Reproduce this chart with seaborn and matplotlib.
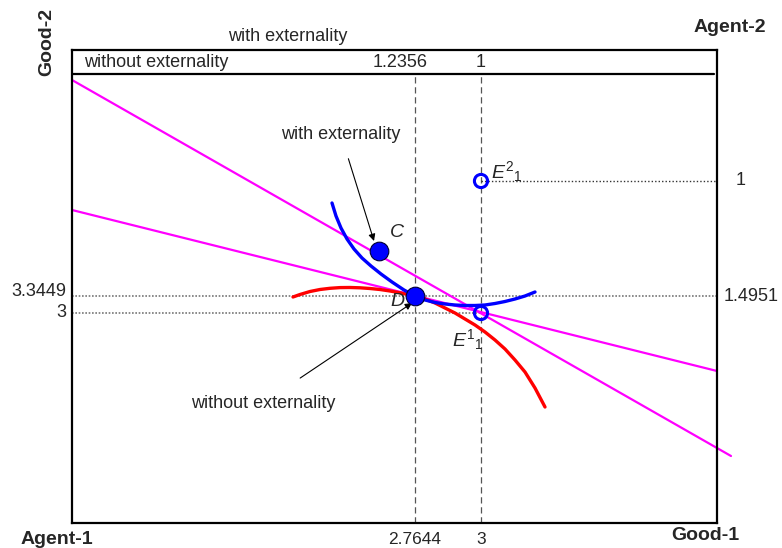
import matplotlib
matplotlib.use("Agg")
import matplotlib.pyplot as plt
import seaborn as sns
import pandas as pd

# ---- data (box units: origin = Agent-1 corner) ----
box_w, box_h = 645, 473
top_strip_y = 449

blue_x = [260, 264, 269, 275, 282, 290, 299, 309, 320, 332, 343, 353, 363, 373,
          383, 393, 403, 413, 423, 433, 443, 453, 463]
blue_y = [320, 307, 295, 284, 274, 265, 257, 249, 241, 233, 227, 223, 220.5, 219,
          218, 217.5, 217.5, 218, 219.5, 221.5, 224, 227, 231]

red_x = [221, 228, 238, 248, 258, 268, 278, 288, 298, 308, 318, 328, 336, 343,
         353, 363, 373, 383, 393, 403, 413, 423, 433, 443, 453, 463, 473]
red_y = [226, 228.5, 231.5, 233.5, 234.7, 235.4, 235.5, 235.2, 234.5, 233.5, 232,
         230.2, 228.5, 227, 224, 220, 215, 210, 204, 198, 191, 183, 174, 163,
         151, 135, 116]

price1_x = [0, 659]
price1_y = [443, 67]
price2_x = [0, 645]
price2_y = [313, 152]

filled_pts = {"C": (307, 272), "D": (343, 227)}
open_pts = {"E1": (409, 210), "E2": (409, 342)}

x_ticks_bottom = ["2.7644", "3"]
x_ticks_top = ["1.2356", "1"]
y_ticks_left = ["3.3449", "3"]
y_ticks_right = ["1.4951", "1"]

# ---- plotting ----
sns.set_theme(style="white")
plt.rcParams["font.family"] = ["Liberation Sans", "DejaVu Sans"]
plt.rcParams["mathtext.fontset"] = "custom"
plt.rcParams["mathtext.it"] = "Liberation Sans:italic"
plt.rcParams["mathtext.rm"] = "Liberation Sans"

fig = plt.figure(figsize=(7.82, 5.48), dpi=100)
ax = fig.add_axes([72 / 782, 25 / 548, 645 / 782, 473 / 548])
ax.set_xlim(0, box_w)
ax.set_ylim(0, box_h)
for s in ax.spines.values():
    s.set_visible(True)
    s.set_color("black")
    s.set_linewidth(1.6)
ax.set_xticks([])
ax.set_yticks([])

# guide lines
ax.plot([0, 642], [top_strip_y, top_strip_y], color="black", lw=1.6)
for xv in (343, 409):
    ax.plot([xv, xv], [0, top_strip_y], color="#555555", lw=0.9, ls=(0, (5, 3)))
ax.plot([0, box_w], [227, 227], color="#777777", lw=1.2, ls=(0, (1, 1)))
ax.plot([0, 409], [210, 210], color="#777777", lw=1.2, ls=(0, (1, 1)))
ax.plot([409, box_w], [342, 342], color="#333333", lw=1.0, ls=(0, (1, 1.5)))

# price lines
sns.lineplot(x=price1_x, y=price1_y, ax=ax, color="#FF00FF", lw=1.6, sort=False,
             clip_on=False)
sns.lineplot(x=price2_x, y=price2_y, ax=ax, color="#FF00FF", lw=1.6, sort=False)

# indifference curves
sns.lineplot(x=red_x, y=red_y, ax=ax, color="#FF0000", lw=2.4, sort=False)
sns.lineplot(x=blue_x, y=blue_y, ax=ax, color="#0000FF", lw=2.4, sort=False)

# points
fp = pd.DataFrame(filled_pts, index=["x", "y"]).T
sns.scatterplot(data=fp, x="x", y="y", ax=ax, s=180, color="#0000FF",
                edgecolor="#000033", linewidth=0.8, zorder=5)
op = pd.DataFrame(open_pts, index=["x", "y"]).T
sns.scatterplot(data=op, x="x", y="y", ax=ax, s=90, facecolor="none",
                edgecolor="#0000FF", linewidth=2.2, zorder=5)

# point labels
ax.text(325, 290, "C", fontsize=14, style="italic", ha="center", va="center")
ax.text(325, 221, "D", fontsize=14, style="italic", ha="center", va="center")
ax.text(419, 351, r"$E^{2}{}_{1}$", fontsize=14, ha="left", va="center")
ax.text(380, 183, r"$E^{1}{}_{1}$", fontsize=14, ha="left", va="center")

# annotations
ax.annotate("with externality", xy=(302, 282), xytext=(269, 388), fontsize=13,
            ha="center", va="center",
            arrowprops=dict(arrowstyle="-|>", color="black", lw=0.8,
                            shrinkA=9, shrinkB=0, mutation_scale=10))
ax.annotate("without externality", xy=(340, 220), xytext=(191, 120), fontsize=13,
            ha="center", va="center",
            arrowprops=dict(arrowstyle="-|>", color="black", lw=0.8,
                            shrinkA=17, shrinkB=0, mutation_scale=10))

# strip and outside texts
ax.text(12, 460, "without externality", fontsize=13, ha="left", va="center")
ax.text(216, 486, "with externality", fontsize=13, ha="center", va="center",
        clip_on=False)
ax.text(328, 460, x_ticks_top[0], fontsize=13, ha="center", va="center")
ax.text(409, 460, x_ticks_top[1], fontsize=13, ha="center", va="center")

ax.text(343, -16, x_ticks_bottom[0], fontsize=12.5, ha="center", va="center",
        clip_on=False)
ax.text(409, -16, x_ticks_bottom[1], fontsize=12.5, ha="center", va="center",
        clip_on=False)
ax.text(-6, 231, y_ticks_left[0], fontsize=13, ha="right", va="center",
        clip_on=False)
ax.text(-6, 210, y_ticks_left[1], fontsize=13, ha="right", va="center",
        clip_on=False)
ax.text(679, 226, y_ticks_right[0], fontsize=13, ha="center", va="center",
        clip_on=False)
ax.text(669, 342, y_ticks_right[1], fontsize=13, ha="center", va="center",
        clip_on=False)

ax.text(-25, 481, "Good-2", fontsize=14, fontweight="bold", rotation=90,
        ha="center", va="center", clip_on=False)
ax.text(658, 495, "Agent-2", fontsize=14, fontweight="bold", ha="center",
        va="center", clip_on=False)
ax.text(-15, -16, "Agent-1", fontsize=14, fontweight="bold", ha="center",
        va="center", clip_on=False)
ax.text(633, -13, "Good-1", fontsize=14, fontweight="bold", ha="center",
        va="center", clip_on=False)

fig.savefig("out.png", dpi=100)
